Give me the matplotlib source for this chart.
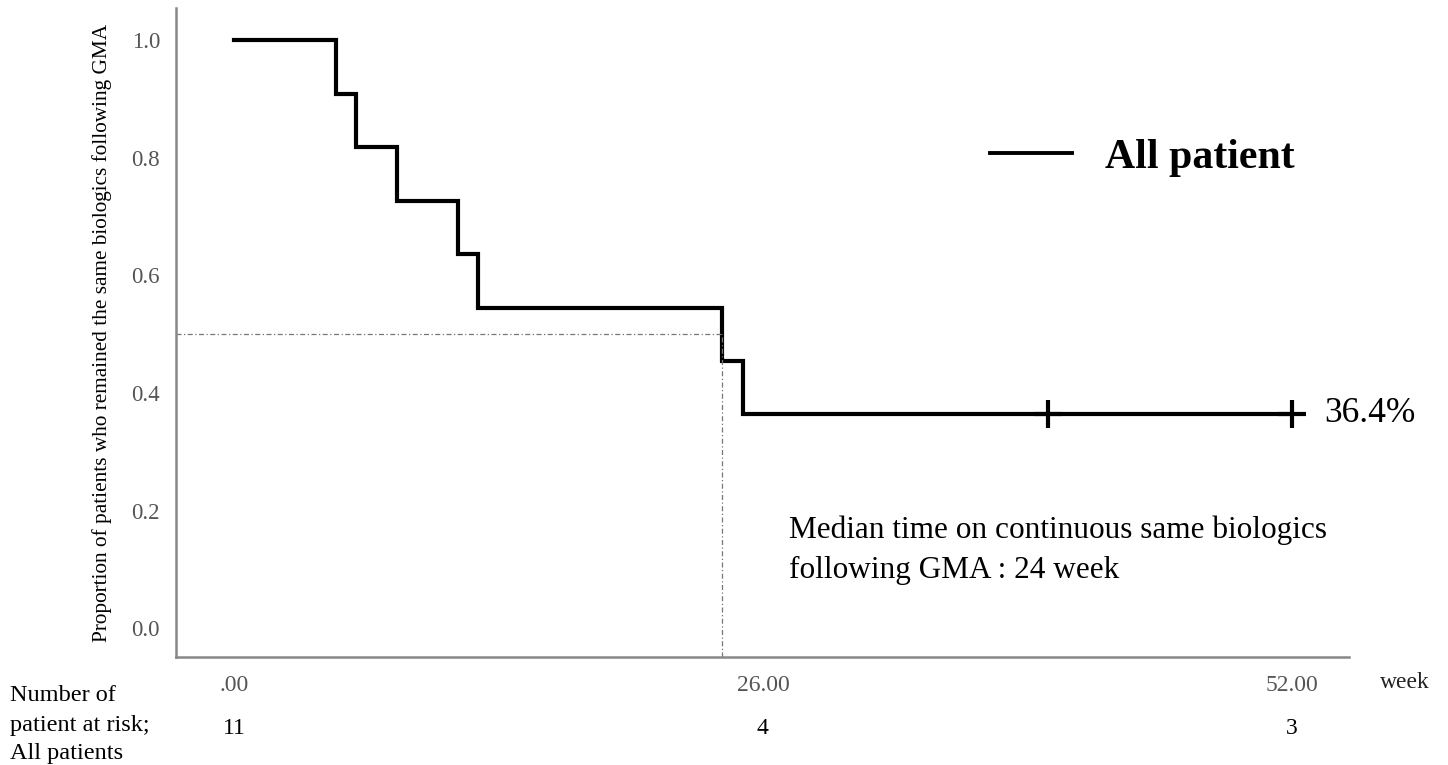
import matplotlib.pyplot as plt
import numpy as np

plt.rcParams['font.family'] = ['Liberation Serif', 'DejaVu Serif']

# Kaplan-Meier steps (weeks) and survival proportion
event_weeks = [0, 5, 6, 8, 11, 12, 24, 25, 52]
survival = [1.0, 0.909, 0.818, 0.727, 0.636, 0.545, 0.455, 0.364, 0.364]
censor_weeks = [40, 52]
censor_surv = [0.364, 0.364]
median_week = 24

xticks = [0, 26, 52]
xtick_labels = ['.00', '26.00', '52.00']
at_risk = ['11', '4', '3']

fig = plt.figure(figsize=(14.48, 7.65), dpi=100)
ax = fig.add_axes([0.1215, 0.1412, 0.81, 0.848])

ax.step(event_weeks, survival, where='post', color='black', lw=3, solid_joinstyle='miter')
ax.plot(censor_weeks, censor_surv, '+', color='black', ms=20, mew=3)

# median guide lines
gray = '#777777'
ax.plot([-2.85, median_week], [0.5, 0.5], color=gray, lw=0.9, ls=(0, (4, 2, 1, 2)))
ax.plot([median_week, median_week], [-0.049, 0.5], color=gray, lw=0.9, ls=(0, (4, 2, 1, 2)))

ax.set_xlim(-2.85, 54.8)
ax.set_ylim(-0.049, 1.054)
ax.set_xticks(xticks)
ax.set_xticklabels(xtick_labels)
ax.set_yticks([0, 0.2, 0.4, 0.6, 0.8, 1.0])
ax.set_yticklabels(['0.0', '0.2', '0.4', '0.6', '0.8', '1.0'])
ax.tick_params(length=0, labelsize=16.5, colors='#555555')
ax.tick_params(axis='y', pad=11.5)
ax.tick_params(axis='x', pad=13, labelsize=17)
for s in ['top', 'right']:
    ax.spines[s].set_visible(False)
for s in ['left', 'bottom']:
    ax.spines[s].set_color('#888888')
    ax.spines[s].set_linewidth(1.8)

ax.set_ylabel('Proportion of patients who remained the same biologics following GMA',
              fontsize=15.3, labelpad=14)

# legend
ax.plot([37.15, 41.2], [0.808, 0.808], color='black', lw=2.8)
ax.text(42.8, 0.782, 'All patient', fontsize=30.2, fontweight='bold', va='baseline')

ax.text(53.6, 0.350, '36.4%', fontsize=25.5, va='baseline')
ax.text(27.3, 0.153, 'Median time on continuous same biologics', fontsize=22.5, va='baseline')
ax.text(27.3, 0.085, 'following GMA : 24 week', fontsize=22.5, va='baseline')

# number at risk
fig.text(1405 / 1448, 1 - 682 / 765, 'week', fontsize=17, color='#222222', va='center', ha='center')
for line, yb in zip(['Number of', 'patient at risk;', 'All patients'], [701, 731, 759]):
    fig.text(10 / 1448, 1 - yb / 765, line, fontsize=17.5, va='baseline', ha='left')
for wk, n in zip(xticks, at_risk):
    xf = ax.transData.transform((wk, 0))[0] / fig.bbox.width
    fig.text(xf, 1 - 728 / 765, n, fontsize=17, va='center', ha='center')

fig.savefig('out.png', dpi=100)
